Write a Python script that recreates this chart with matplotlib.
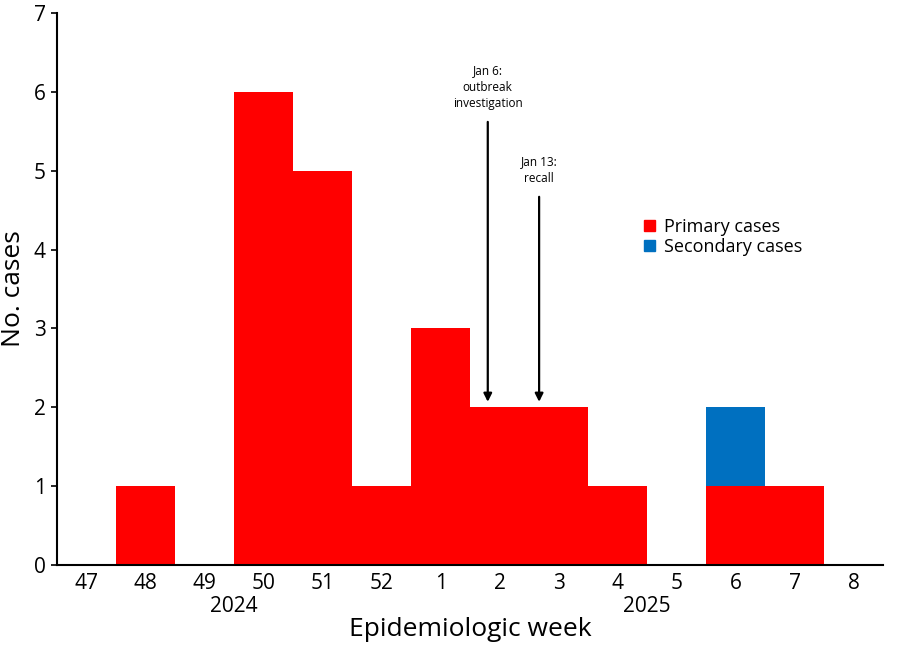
import matplotlib
matplotlib.use("Agg")
import matplotlib.pyplot as plt
from matplotlib.patches import Patch
from matplotlib.transforms import blended_transform_factory

plt.rcParams["font.family"] = ["Open Sans", "DejaVu Sans"]

weeks = ["47", "48", "49", "50", "51", "52", "1", "2", "3", "4", "5", "6", "7", "8"]
primary = [0, 1, 0, 6, 5, 1, 3, 2, 2, 1, 0, 1, 1, 0]
secondary = [0, 0, 0, 0, 0, 0, 0, 0, 0, 0, 0, 1, 0, 0]
years = [("2024", 2.5), ("2025", 9.5)]
events = [("Jan 6:\noutbreak\ninvestigation", 6.8, 5.62), ("Jan 13:\nrecall", 7.67, 4.67)]

red = "#FF0000"
blue = "#0070C0"

fig = plt.figure(figsize=(9, 6.54), dpi=100)
ax = fig.add_axes([0.0633, 0.136, 0.918, 0.844])

x = list(range(len(weeks)))
ax.bar(x, primary, width=1.0, color=red, linewidth=0)
ax.bar(x, secondary, width=1.0, bottom=primary, color=blue, linewidth=0)

ax.set_xlim(-0.5, 13.5)
ax.set_ylim(0, 7)
ax.set_xticks(x)
ax.set_xticklabels(weeks)
ax.set_yticks(range(8))
ax.tick_params(axis="x", length=0, labelsize=15, pad=6)
ax.tick_params(axis="y", length=4, width=1.2, labelsize=15, pad=4)
for s in ["top", "right"]:
    ax.spines[s].set_visible(False)
for s in ["left", "bottom"]:
    ax.spines[s].set_linewidth(1.5)

trans = blended_transform_factory(ax.transData, ax.transAxes)
for label, xpos in years:
    ax.text(xpos, -0.075, label, transform=trans, ha="center", va="center", fontsize=15)

ax.set_xlabel("Epidemiologic week", fontsize=19, labelpad=16)
ax.set_ylabel("No. cases", fontsize=19)
ax.yaxis.set_label_coords(-0.038, 0.5)

for text, xpos, ystart in events:
    ax.annotate("", xy=(xpos, 2.07), xytext=(xpos, ystart),
                arrowprops=dict(arrowstyle="-|>", color="black", lw=1.6,
                                mutation_scale=12, shrinkA=0, shrinkB=0))
    ax.text(xpos, ystart + 0.15, text, ha="center", va="bottom", fontsize=8.5,
            linespacing=1.35)

handles = [Patch(color=red, label="Primary cases"), Patch(color=blue, label="Secondary cases")]
ax.legend(handles=handles, loc="upper left", bbox_to_anchor=(0.7, 0.645), frameon=False,
          fontsize=13, handlelength=0.6, handleheight=0.6, handletextpad=0.5,
          labelspacing=0.1, borderpad=0)

fig.savefig("out.png", dpi=100)
